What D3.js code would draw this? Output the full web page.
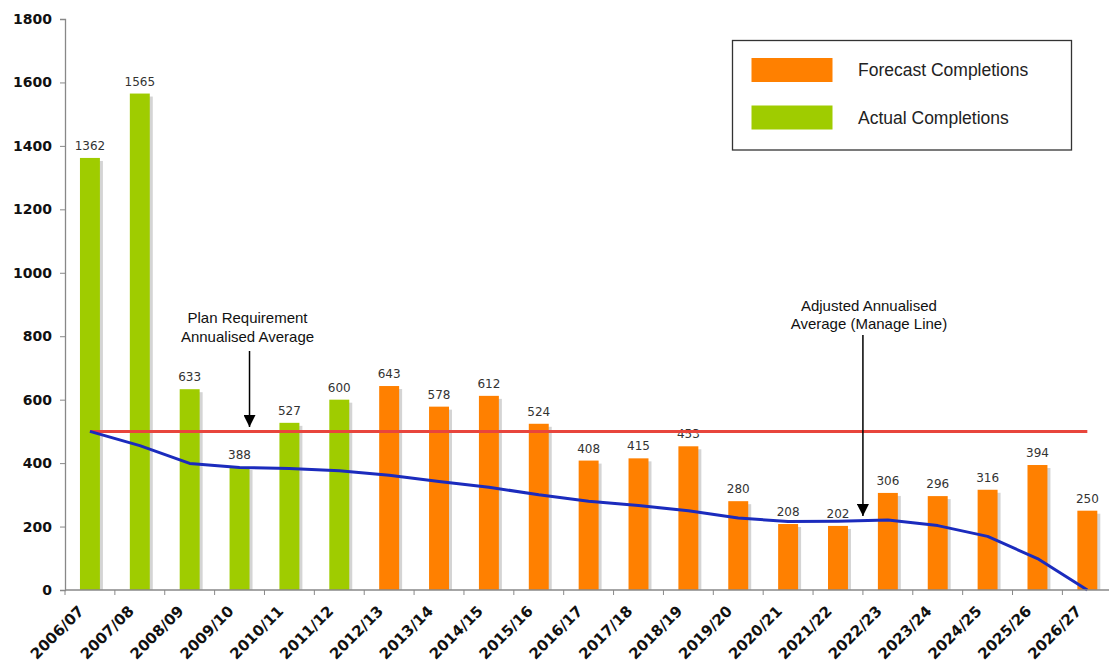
<!DOCTYPE html>
<html>
<head>
<meta charset="utf-8">
<script src="https://cdn.jsdelivr.net/npm/d3@7"></script>
<style>
  html, body { margin: 0; padding: 0; background: #fff; }
  svg { display: block; }
</style>
</head>
<body>
<svg id="chart" width="1109" height="664"></svg>
<script>
const categories = ["2006/07","2007/08","2008/09","2009/10","2010/11","2011/12","2012/13","2013/14","2014/15","2015/16","2016/17","2017/18","2018/19","2019/20","2020/21","2021/22","2022/23","2023/24","2024/25","2025/26","2026/27"];
const actualCompletions = [1362, 1565, 633, 388, 527, 600, null, null, null, null, null, null, null, null, null, null, null, null, null, null, null];
const forecastCompletions = [null, null, null, null, null, null, 643, 578, 612, 524, 408, 415, 453, 280, 208, 202, 306, 296, 316, 394, 250];
const planRequirement = 500;
const manageLine = [500, 455, 399, 386, 383, 376, 362, 342, 324, 300, 280, 266, 250, 227, 216, 217, 221, 203, 169, 99, 0];
const yTicks = [0, 200, 400, 600, 800, 1000, 1200, 1400, 1600, 1800];
const seriesNames = ["Forecast Completions", "Actual Completions"];
const annotations = [
  { lines: ["Plan Requirement", "Annualised Average"], cat: "2009/10" },
  { lines: ["Adjusted Annualised", "Average (Manage Line)"], cat: "2022/23" }
];

const colors = { actual: "#9fcc00", forecast: "#ff8000", plan: "#e8453c", manage: "#1b2bbd" };

const svg = d3.select("#chart");
const left = 65, step = 49.87, n = categories.length;
const x = d3.scaleBand().domain(categories).range([left, left + step * n]).paddingInner(0.6).paddingOuter(0.3);
const y = d3.scaleLinear().domain([0, 1800]).range([590, 19]);
const cx = d => x(d) + x.bandwidth() / 2;

// bars
const bars = categories.map((c, i) => ({ c, v: actualCompletions[i] != null ? actualCompletions[i] : forecastCompletions[i], type: actualCompletions[i] != null ? "actual" : "forecast" }));

const g = svg.append("g");
g.selectAll("rect.shadow").data(bars).join("rect")
  .attr("x", d => x(d.c) + 3).attr("y", d => y(d.v) + 3)
  .attr("width", x.bandwidth()).attr("height", d => y(0) - y(d.v) - 3)
  .attr("fill", "#d4d4d4");
g.selectAll("rect.bar").data(bars).join("rect")
  .attr("x", d => x(d.c)).attr("y", d => y(d.v))
  .attr("width", x.bandwidth()).attr("height", d => y(0) - y(d.v))
  .attr("fill", d => colors[d.type]);

g.selectAll("text.val").data(bars).join("text")
  .attr("x", d => cx(d.c)).attr("y", d => y(d.v) - 8)
  .attr("text-anchor", "middle")
  .attr("font-family", "DejaVu Sans, Verdana, sans-serif")
  .attr("font-size", 12).attr("fill", "#333")
  .text(d => d.v);

// plan line
svg.append("line")
  .attr("x1", cx(categories[0])).attr("x2", cx(categories[n - 1]))
  .attr("y1", y(planRequirement)).attr("y2", y(planRequirement))
  .attr("stroke", colors.plan).attr("stroke-width", 3);

// manage line
const line = d3.line().x((d, i) => cx(categories[i])).y(d => y(d)).curve(d3.curveLinear);
svg.append("path").datum(manageLine)
  .attr("d", line).attr("fill", "none")
  .attr("stroke", colors.manage).attr("stroke-width", 3).attr("stroke-linejoin", "round");

// y axis
const yAxis = d3.axisLeft(y).tickValues(yTicks).tickFormat(d3.format("d")).tickSize(5).tickPadding(8);
const ya = svg.append("g").attr("transform", `translate(${left},0)`).call(yAxis);
ya.select(".domain").attr("stroke", "#888").attr("stroke-width", 1.3);
ya.selectAll(".tick line").attr("stroke", "#888");
ya.selectAll(".tick text").attr("font-family", "DejaVu Sans, Verdana, sans-serif")
  .attr("font-weight", "bold").attr("font-size", 14).attr("fill", "#111");

// x axis
const xa = svg.append("g").attr("transform", `translate(0,${y(0)})`);
xa.append("line").attr("x1", left).attr("x2", 1109).attr("y1", 0).attr("y2", 0)
  .attr("stroke", "#888").attr("stroke-width", 1.3);
xa.selectAll("line.tk").data(categories).join("line")
  .attr("x1", d => x(d) - x.step() * 0.3).attr("x2", d => x(d) - x.step() * 0.3)
  .attr("y1", 0).attr("y2", 5).attr("stroke", "#888");
xa.selectAll("text").data(categories).join("text")
  .attr("transform", d => `translate(${cx(d) - 5},22) rotate(-45)`)
  .attr("text-anchor", "end")
  .attr("font-family", "DejaVu Sans, Verdana, sans-serif")
  .attr("font-weight", "bold").attr("font-size", 15).attr("fill", "#111")
  .text(d => d);

// annotations
const defs = svg.append("defs");
defs.append("marker").attr("id", "arrow").attr("viewBox", "0 0 10 10")
  .attr("refX", 10).attr("refY", 5).attr("markerWidth", 12).attr("markerHeight", 12)
  .attr("markerUnits", "userSpaceOnUse").attr("orient", "auto")
  .append("path").attr("d", "M0,0 L10,5 L0,10 Z").attr("fill", "#000");

const ann1 = annotations[0];
const ax1 = x(ann1.cat) - x.step() * 0.3 + x.step() * 0.7;
svg.append("text").attr("x", ax1 - 2).attr("y", 323)
  .attr("text-anchor", "middle").attr("font-family", "Liberation Sans, Arial, sans-serif")
  .attr("font-size", 15).attr("fill", "#111")
  .selectAll("tspan").data(ann1.lines).join("tspan")
  .attr("x", ax1 - 2).attr("dy", (d, i) => i === 0 ? 0 : 18.5).text(d => d);
svg.append("line").attr("x1", ax1).attr("x2", ax1).attr("y1", 351).attr("y2", 427)
  .attr("stroke", "#000").attr("stroke-width", 1.5).attr("marker-end", "url(#arrow)");

const ann2 = annotations[1];
const ax2 = x(ann2.cat) - x.step() * 0.3;
svg.append("text").attr("x", ax2 + 6).attr("y", 310.5)
  .attr("text-anchor", "middle").attr("font-family", "Liberation Sans, Arial, sans-serif")
  .attr("font-size", 15).attr("fill", "#111")
  .selectAll("tspan").data(ann2.lines).join("tspan")
  .attr("x", ax2 + 6).attr("dy", (d, i) => i === 0 ? 0 : 18.5).text(d => d);
svg.append("line").attr("x1", ax2).attr("x2", ax2).attr("y1", 335).attr("y2", 516)
  .attr("stroke", "#000").attr("stroke-width", 1.5).attr("marker-end", "url(#arrow)");

// legend
const lg = svg.append("g");
lg.append("rect").attr("x", 732.5).attr("y", 40.5).attr("width", 339).attr("height", 109.5)
  .attr("fill", "#fff").attr("stroke", "#333").attr("stroke-width", 1.3);
const legendItems = [
  { name: seriesNames[0], color: colors.forecast, y: 70 },
  { name: seriesNames[1], color: colors.actual, y: 117.5 }
];
lg.selectAll("rect.sw").data(legendItems).join("rect")
  .attr("x", 751.5).attr("y", d => d.y - 12).attr("width", 81).attr("height", 24)
  .attr("fill", d => d.color);
lg.selectAll("text").data(legendItems).join("text")
  .attr("x", 858).attr("y", d => d.y).attr("dy", "0.35em")
  .attr("font-family", "Liberation Sans, Arial, sans-serif").attr("font-size", 17.5).attr("fill", "#222")
  .text(d => d.name);
</script>
</body>
</html>
